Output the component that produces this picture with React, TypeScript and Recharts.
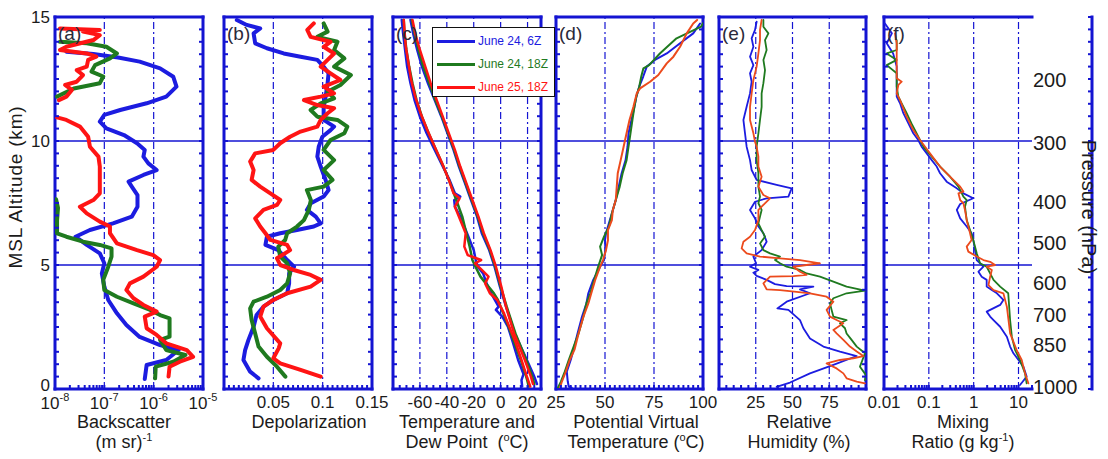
import React from 'react'
import { ScatterChart, Scatter, XAxis, YAxis, ReferenceLine } from 'recharts'

const FONT = '"Liberation Sans", Arial, Helvetica, sans-serif'
const INK = '#1b1b1b'
const FRAME = '#1414d2'
const BLUE = '#1c1ce0'
const GREEN = '#1f7a1f'
const RED = '#ff1414'
const ORANGE = '#ec4a1c'

type Pt = [number, number] // [altitude km, value]

// ---- (a) backscatter (m sr)^-1
const backscatterBlue: Pt[] = [[0.4, 6.6e-7], [0.97, 7.2e-7], [1.17, 1.8e-6], [1.57, 3.2e-6], [1.77, 1.35e-6], [2.1, 5.2e-7], [2.58, 2.8e-7], [3.05, 1.8e-7], [3.59, 1.2e-7], [4.13, 1e-7], [4.66, 8.9e-8], [5.07, 1e-7], [5.47, 8.1e-8], [5.81, 4.4e-8], [6.14, 2.6e-8], [6.41, 5.1e-8], [6.68, 1.5e-7], [6.95, 3.6e-7], [7.35, 4.7e-7], [7.82, 4.7e-7], [8.16, 3.6e-7], [8.36, 3.1e-7], [8.63, 6.2e-7], [8.83, 1.15e-6], [9.1, 7.8e-7], [9.37, 6.2e-7], [9.64, 6.6e-7], [9.91, 4.6e-7], [10.24, 2.5e-7], [10.51, 1.1e-7], [10.78, 8.1e-8], [11.05, 1e-7], [11.25, 2.1e-7], [11.52, 7.2e-7], [11.79, 1.8e-6], [12.19, 2.9e-6], [12.59, 2.5e-6], [12.93, 1.35e-6], [13.2, 5.2e-7], [13.37, 1.9e-7], [13.51, 6e-8], [13.6, 1.7e-8]]
const backscatterGreenLow: Pt[] = [[0.43, 1.07e-6], [0.9, 1.1e-6], [1.1, 2.5e-6], [1.37, 4.4e-6], [1.57, 1.8e-6], [1.98, 1.35e-6], [2.11, 2.1e-6], [2.85, 2.1e-6], [2.98, 1.35e-6], [3.19, 8.5e-7], [3.45, 3.9e-7], [3.72, 1.8e-7], [3.99, 1e-7], [4.4, 9.5e-8], [4.93, 1.2e-7], [5.34, 1.4e-7], [5.67, 1.4e-7], [5.81, 8.1e-8], [5.94, 3.7e-8], [6.14, 1.7e-8], [6.28, 1.1e-8], [6.8, 1.1e-8], [7.3, 1.15e-8], [7.65, 1.05e-8]]
const backscatterGreenHigh: Pt[] = [[11.79, 1.1e-8], [12.12, 2.4e-8], [12.33, 8.1e-8], [12.6, 9.5e-8], [12.8, 5.5e-8], [13.06, 6.5e-8], [13.33, 1.3e-7], [13.53, 1.8e-7], [13.8, 1.1e-7], [13.94, 4.4e-8], [14.0, 1.26e-8]]
const backscatterRedLow: Pt[] = [[0.5, 2e-6], [0.9, 2.1e-6], [1.1, 3.4e-6], [1.3, 6.3e-6], [1.57, 4.7e-6], [1.84, 1.8e-6], [2.18, 1.15e-6], [2.45, 7.2e-7], [2.92, 6.6e-7], [3.12, 1.15e-6], [3.39, 6.2e-7], [3.66, 3.9e-7], [3.99, 2.8e-7], [4.26, 3.3e-7], [4.53, 6.2e-7], [4.93, 1.15e-6], [5.2, 1.35e-6], [5.4, 9.8e-7], [5.6, 4.6e-7], [5.87, 1.8e-7], [6.28, 1.3e-7], [6.55, 1.3e-7], [6.75, 8.1e-8], [7.08, 4.4e-8], [7.35, 3.2e-8], [7.62, 6e-8], [7.89, 8.1e-8], [8.43, 8.1e-8], [8.97, 8.1e-8], [9.37, 7.6e-8], [9.77, 5.1e-8], [10.17, 4.7e-8], [10.58, 3.2e-8], [10.85, 1.7e-8], [10.95, 1.1e-8]]
const backscatterRedHigh: Pt[] = [[11.65, 1.2e-8], [11.79, 1.7e-8], [12.06, 2.2e-8], [12.26, 1.6e-8], [12.39, 2.75e-8], [12.66, 3.7e-8], [12.86, 2.75e-8], [13.0, 4.4e-8], [13.27, 4.7e-8], [13.4, 6.9e-8], [13.53, 4.4e-8], [13.67, 1.26e-8], [13.8, 1.7e-8], [14.07, 6e-8], [14.27, 8.1e-8], [14.41, 3.7e-8], [14.48, 8.1e-8], [14.54, 1.26e-8]]

// ---- (b) depolarization
const depolBlue: Pt[] = [[0.43, 0.035], [0.7, 0.0265], [1.17, 0.0197], [1.57, 0.0214], [1.98, 0.0248], [2.51, 0.03], [2.98, 0.033], [3.32, 0.04], [3.59, 0.05], [3.86, 0.064], [4.26, 0.066], [4.66, 0.066], [4.93, 0.071], [5.2, 0.064], [5.6, 0.055], [5.81, 0.042], [6.14, 0.0435], [6.28, 0.057], [6.41, 0.074], [6.55, 0.091], [6.68, 0.098], [6.95, 0.093], [7.22, 0.084], [7.49, 0.088], [7.76, 0.101], [8.02, 0.106], [8.43, 0.103], [8.97, 0.098], [9.37, 0.0946], [9.77, 0.096], [10.17, 0.0997], [10.44, 0.108], [10.58, 0.1116], [10.85, 0.101], [11.38, 0.101], [11.79, 0.103], [12.33, 0.105], [12.73, 0.106], [13.0, 0.101], [13.27, 0.0946], [13.4, 0.0776], [13.53, 0.0605], [13.74, 0.0435], [13.94, 0.0316], [14.34, 0.03], [14.54, 0.0367], [14.68, 0.023], [14.88, 0.013]]
const depolGreen: Pt[] = [[0.5, 0.0622], [0.9, 0.0537], [1.3, 0.0435], [1.71, 0.035], [2.24, 0.0316], [2.78, 0.028], [3.25, 0.0265], [3.52, 0.03], [3.72, 0.0435], [3.99, 0.057], [4.26, 0.064], [4.66, 0.067], [5.07, 0.064], [5.34, 0.057], [5.74, 0.055], [6.01, 0.062], [6.28, 0.064], [6.55, 0.074], [6.81, 0.081], [7.22, 0.086], [7.62, 0.088], [8.02, 0.084], [8.16, 0.101], [8.43, 0.11], [8.83, 0.101], [9.23, 0.1116], [9.64, 0.101], [10.04, 0.108], [10.31, 0.122], [10.58, 0.125], [10.85, 0.115], [10.98, 0.0946], [11.25, 0.0878], [11.52, 0.098], [11.72, 0.1116], [11.99, 0.105], [12.26, 0.118], [12.66, 0.1286], [13.0, 0.1116], [13.33, 0.122], [13.67, 0.1116], [14.0, 0.115], [14.2, 0.0946], [14.41, 0.105], [14.74, 0.101]]
const depolRed: Pt[] = [[0.5, 0.098], [0.77, 0.0776], [1.03, 0.057], [1.24, 0.05], [1.64, 0.0554], [1.84, 0.057], [2.45, 0.0435], [2.92, 0.0367], [3.32, 0.04], [3.59, 0.05], [3.86, 0.064], [4.13, 0.0878], [4.4, 0.098], [4.6, 0.0878], [4.8, 0.0707], [5.0, 0.057], [5.27, 0.0537], [5.6, 0.067], [5.81, 0.064], [6.01, 0.047], [6.28, 0.042], [6.55, 0.0367], [6.88, 0.0316], [7.22, 0.04], [7.42, 0.0537], [7.62, 0.057], [7.89, 0.047], [8.16, 0.0367], [8.43, 0.028], [8.83, 0.03], [9.17, 0.0265], [9.5, 0.0316], [9.64, 0.05], [9.91, 0.057], [10.17, 0.067], [10.38, 0.0776], [10.58, 0.0946], [10.85, 0.098], [11.12, 0.105], [11.32, 0.1116], [11.45, 0.0946], [11.65, 0.081], [11.79, 0.098], [11.92, 0.1116], [12.19, 0.101], [12.46, 0.118], [12.73, 0.108], [13.0, 0.098], [13.27, 0.105], [13.53, 0.1116], [13.8, 0.101], [14.0, 0.108], [14.2, 0.0878], [14.48, 0.0844], [14.74, 0.091]]

// ---- (c) temperature and dew point (°C)
const tempBlue: Pt[] = [[0.2, 27], [0.5, 25], [1.17, 19.5], [2.24, 10.5], [3.32, 4], [4.13, -0.5], [4.93, -4.5], [5.6, -8.5], [6.28, -14], [6.95, -17.5], [7.62, -22], [8.3, -26.5], [8.97, -31], [9.64, -35], [10.31, -39.5], [10.98, -44], [11.65, -49], [12.33, -54], [13.0, -58.5], [13.67, -62], [14.34, -65], [14.88, -67]]
const tempGreen: Pt[] = [[0.2, 25], [0.5, 23.5], [1.17, 19], [2.24, 11], [3.32, 4.5], [4.13, 0], [4.93, -4], [5.6, -8], [6.28, -13], [6.95, -17], [7.62, -21.5], [8.3, -26], [8.97, -30.5], [9.64, -34.5], [10.31, -39], [10.98, -43.5], [11.65, -48.5], [12.33, -53], [13.0, -57.5], [13.67, -61], [14.34, -64], [14.88, -66]]
const tempRed: Pt[] = [[0.2, 24], [0.5, 22.5], [1.17, 18], [2.24, 10], [3.32, 4], [4.13, 0.5], [4.93, -3.5], [5.6, -7.5], [6.28, -12.5], [6.95, -16.5], [7.62, -21], [8.3, -25.5], [8.97, -30], [9.64, -34], [10.31, -38.5], [10.98, -43], [11.65, -47.5], [12.33, -52], [13.0, -56], [13.67, -60], [14.34, -63.5], [14.88, -65.5]]
const dewBlue: Pt[] = [[0.1, 16], [0.36, 15.5], [0.6, 17], [1.17, 13], [1.9, 9], [2.5, 5.5], [2.9, 1.5], [3.19, -3.5], [3.32, -1.5], [3.86, -7], [4.26, -10.5], [4.66, -13], [4.93, -17], [5.2, -18.5], [5.6, -20], [6.28, -25], [6.95, -30], [7.35, -34], [7.62, -34.5], [7.76, -30], [7.89, -34], [8.43, -38], [8.97, -43], [9.64, -49], [10.31, -55], [10.98, -60], [11.65, -64], [12.33, -67], [13.0, -69.5], [13.67, -71], [14.34, -72.5], [14.88, -73.5]]
const dewGreen: Pt[] = [[0.1, 21], [0.5, 19], [1.17, 15], [1.9, 10], [2.5, 6], [3.05, 2], [3.59, -2], [3.86, -5], [4.26, -11], [4.53, -15], [4.8, -17.5], [5.2, -21], [5.74, -23], [6.28, -25.5], [6.95, -28.5], [7.62, -33], [8.3, -37.5], [8.97, -42.5], [9.64, -48], [10.31, -53.5], [10.98, -58.5], [11.65, -62.5], [12.33, -65.5], [13.0, -68], [13.67, -70], [14.34, -71.5], [14.88, -72]]
const dewRed: Pt[] = [[0.1, 22], [0.5, 19.5], [1.17, 15.5], [1.9, 11], [2.5, 6.5], [3.05, 2.5], [3.59, -2.5], [3.86, -8], [4.26, -11.5], [4.53, -9], [4.8, -14], [5.07, -19], [5.2, -14.5], [5.4, -24.5], [5.74, -27], [6.28, -26], [6.68, -29], [7.35, -34], [7.69, -30.5], [7.89, -35], [8.43, -38.5], [9.1, -43.5], [9.77, -49], [10.44, -54.5], [11.12, -59.5], [11.79, -63.5], [12.46, -66.5], [13.13, -68.5], [13.8, -70.5], [14.48, -71.5], [14.88, -72]]

// ---- (d) potential virtual temperature (°C)
const thetaBlue: Pt[] = [[0.05, 33], [0.1, 31.5], [0.3, 31], [0.7, 30.5], [1.17, 32.5], [1.6, 34], [2.24, 36], [2.92, 38.3], [3.45, 40.5], [3.86, 41.5], [4.4, 44], [4.93, 47.5], [5.2, 49.5], [5.6, 50.2], [6.0, 50], [6.28, 50.5], [6.68, 52], [7.08, 53.5], [7.62, 55.5], [8.16, 57], [8.7, 58.5], [9.23, 60.5], [9.77, 61.5], [10.31, 62], [10.85, 63.5], [11.38, 65], [11.79, 66], [12.2, 67.5], [12.6, 69.5], [13.0, 71.3], [13.27, 75.5], [13.53, 81.5], [13.94, 88.3], [14.34, 95], [14.74, 98.5]]
const thetaGreen: Pt[] = [[0.05, 26], [0.3, 27.5], [0.7, 29.5], [1.17, 31.5], [1.6, 33.5], [2.24, 36.5], [2.92, 39], [3.45, 40.5], [3.86, 42.5], [4.4, 44.5], [4.93, 46.5], [5.4, 48.5], [5.74, 47.5], [6.14, 49.5], [6.55, 52], [7.08, 53.5], [7.62, 55.5], [8.16, 57.5], [8.7, 59], [9.23, 61], [9.77, 62], [10.31, 63], [10.85, 64], [11.38, 65], [11.79, 66], [12.2, 67.5], [12.6, 68.5], [12.93, 69.6], [13.06, 72.5], [13.53, 78], [14.14, 86.5], [14.61, 99], [14.75, 100]]
const thetaRed: Pt[] = [[0.05, 27], [0.3, 28], [0.7, 30], [1.17, 32], [1.6, 34.5], [2.24, 36.5], [2.92, 39], [3.45, 41.5], [3.86, 43], [4.4, 45], [4.93, 47.5], [5.2, 49], [5.6, 50.5], [6.0, 51.5], [6.41, 51.5], [6.81, 53.5], [7.22, 54], [7.62, 55.5], [8.16, 56], [8.7, 56.5], [9.23, 58], [9.77, 59.5], [10.31, 61], [10.85, 62.5], [11.38, 64.5], [11.92, 66.2], [12.12, 67.9], [12.39, 73], [12.66, 77.2], [13.13, 81.5], [13.4, 84.9], [13.8, 88.3], [14.34, 91.7], [14.74, 95], [14.88, 97]]

// ---- (e) relative humidity (%)
const rhBlue: Pt[] = [[0.09, 39.2], [0.26, 48.3], [0.63, 61.9], [0.97, 77.8], [1.33, 93.7], [1.51, 82.3], [1.71, 71], [2.04, 61.9], [2.45, 57.4], [2.78, 55.1], [3.19, 47.2], [3.25, 39.7], [3.52, 46], [3.86, 61.9], [4.02, 55.1], [4.13, 64.2], [4.15, 46], [4.23, 38.1], [4.4, 32.4], [4.56, 25.6], [4.69, 23.4], [4.8, 26.8], [4.93, 21.1], [5.07, 25.2], [5.34, 23.4], [5.6, 29], [5.94, 32.4], [6.28, 30.2], [6.55, 26.8], [6.88, 24.5], [7.22, 21.1], [7.55, 24.5], [7.69, 32.4], [7.76, 47.2], [8.09, 49.4], [8.23, 39.2], [8.43, 25.6], [8.83, 22.2], [9.23, 21.1], [9.77, 18.8], [10.31, 17.7], [10.85, 16.6], [11.38, 18.8], [11.92, 21.1], [12.39, 22.2], [12.73, 21.1], [13.06, 23.4], [13.4, 21.1], [13.8, 23.4], [14.14, 22.2], [14.48, 24.5], [14.81, 25.6]]
const rhGreen: Pt[] = [[0.36, 99.3], [0.56, 100], [0.9, 95.9], [1.44, 99.3], [1.71, 93.7], [1.98, 90.2], [2.24, 86.8], [2.45, 85.7], [2.65, 82.3], [2.78, 86.8], [2.92, 77.8], [3.19, 76.6], [3.45, 75.5], [3.66, 77.8], [3.86, 86.8], [3.97, 99.3], [4.13, 86.8], [4.33, 77.8], [4.53, 68.7], [4.66, 59.6], [4.8, 55.1], [4.93, 46], [5.07, 41.5], [5.2, 38.1], [5.34, 41.5], [5.47, 34.7], [5.6, 30.2], [5.87, 27.9], [6.14, 31.3], [6.41, 29], [6.68, 26.8], [6.95, 27.9], [7.22, 29], [7.49, 26.8], [7.76, 27.9], [8.16, 26.8], [8.7, 26.8], [9.23, 25.6], [9.77, 25.6], [10.31, 26.8], [10.85, 27.9], [11.38, 29], [11.92, 29], [12.33, 30.2], [12.86, 31.3], [13.27, 30.2], [13.67, 32.4], [14.07, 31.3], [14.34, 33.6], [14.61, 30.2], [14.88, 30.2]]
const rhRed: Pt[] = [[0.23, 99.3], [0.3, 93.7], [0.43, 86.8], [0.63, 84.6], [0.83, 80], [1.03, 73.2], [1.17, 82.3], [1.24, 91.4], [1.33, 98.2], [1.51, 93.7], [1.71, 89.1], [1.98, 84.6], [2.24, 80], [2.38, 77.8], [2.65, 84.6], [2.78, 80], [2.92, 75.5], [3.19, 73.2], [3.52, 77.8], [3.72, 73.2], [3.86, 61.9], [3.92, 52.8], [3.99, 41.5], [4.02, 32.4], [4.26, 30.2], [4.53, 34.7], [4.55, 50.6], [4.6, 59.6], [4.73, 55.1], [4.93, 50.6], [5.0, 59.6], [5.07, 68.7], [5.2, 55.1], [5.27, 41.5], [5.34, 27.9], [5.47, 18.8], [5.67, 15.4], [5.94, 16.6], [6.14, 21.1], [6.41, 24.5], [6.81, 26.8], [7.22, 26.8], [7.35, 29], [7.69, 34.7], [7.82, 30.2], [8.16, 26.8], [8.56, 29], [8.97, 26.8], [9.37, 26.8], [9.77, 25.6], [9.97, 24.5], [10.31, 23.4], [10.85, 21.1], [11.38, 21.1], [11.92, 22.2], [12.46, 23.4], [13.0, 25.6], [13.53, 26.8], [14.07, 27.9], [14.48, 27.9], [14.88, 29]]

// ---- (f) mixing ratio (g/kg)
const mixBlue: Pt[] = [[0.16, 10.8], [0.5, 15.2], [0.9, 12.9], [1.17, 10], [1.44, 7.7], [1.71, 6.5], [2.11, 5.5], [2.51, 3.9], [2.78, 2.77], [2.92, 2.33], [3.12, 1.95], [3.39, 3.9], [3.59, 4.6], [3.86, 3.3], [3.99, 2.54], [4.13, 1.95], [4.4, 1.95], [4.53, 1.51], [4.73, 1.28], [4.93, 1.65], [5.2, 1.17], [5.6, 1.07], [6.01, 0.98], [6.28, 0.9], [6.55, 0.7], [6.88, 0.5], [7.22, 0.42], [7.46, 0.5], [7.69, 0.98], [7.89, 0.59], [8.09, 0.42], [8.36, 0.25], [8.7, 0.178], [8.97, 0.15], [9.23, 0.116], [9.5, 0.0897], [9.77, 0.069], [10.04, 0.058], [10.31, 0.045], [10.71, 0.035], [11.12, 0.027], [11.52, 0.0228], [11.79, 0.0192], [12.33, 0.0192], [13.0, 0.0192], [13.53, 0.016], [13.94, 0.0115], [14.34, 0.015], [14.74, 0.0105]]
const mixGreen: Pt[] = [[0.23, 15.2], [0.63, 14], [1.17, 10.8], [1.57, 8.4], [2.11, 7.1], [2.78, 6.5], [3.86, 5.9], [4.13, 3.9], [4.4, 2.77], [4.66, 2.33], [4.93, 1.95], [5.07, 1.39], [5.47, 1.17], [6.01, 0.98], [6.41, 0.83], [6.81, 0.7], [7.35, 0.64], [7.62, 0.7], [7.76, 0.59], [8.16, 0.457], [8.56, 0.297], [8.97, 0.178], [9.37, 0.116], [9.77, 0.0755], [10.31, 0.0535], [10.71, 0.041], [11.12, 0.032], [11.52, 0.0248], [11.79, 0.0209], [12.19, 0.0192], [12.73, 0.0192], [13.06, 0.0115], [13.27, 0.0192], [13.53, 0.0115], [13.67, 0.0192], [14.07, 0.0192]]
const mixRed: Pt[] = [[0.23, 16.6], [0.63, 14], [1.17, 11.8], [1.57, 9.1], [2.24, 6.5], [3.32, 5.5], [3.86, 4.6], [3.99, 2.77], [4.19, 2.14], [4.53, 2.33], [4.8, 2.54], [4.93, 1.95], [5.0, 3.0], [5.13, 2.33], [5.2, 1.65], [5.34, 1.17], [5.54, 0.76], [5.74, 0.7], [6.01, 0.9], [6.28, 0.83], [6.81, 0.7], [7.22, 0.64], [7.49, 0.59], [7.62, 0.5], [7.89, 0.457], [7.96, 0.59], [8.16, 0.5], [8.56, 0.297], [8.97, 0.178], [9.5, 0.106], [10.04, 0.0636], [10.44, 0.045], [10.98, 0.032], [11.65, 0.0228], [11.92, 0.0192], [12.26, 0.0209], [12.39, 0.0248], [12.53, 0.0192], [13.0, 0.0192], [13.53, 0.0192], [13.94, 0.0192], [14.34, 0.0176]]

// ---- axes
const altitudeTicks = [0, 5, 10, 15]
const pressureLevels = ['200', '300', '400', '500', '600', '700', '850', '1000']
const pressureAltKm = [12.46, 9.92, 7.54, 5.89, 4.27, 2.98, 1.77, 0.08]
const backscatterTicks = [1e-8, 1e-7, 1e-6, 1e-5]
const backscatterTickExp = ['-8', '-7', '-6', '-5']
const depolTicks = [0.05, 0.1, 0.15]
const depolTickLabels = ['0.05', '0.1', '0.15']
const tempTicks = [-60, -40, -20, 0, 20]
const tempTickLabels = ['-60', '-40', '-20', '0', '20']
const thetaTicks = [25, 50, 75, 100]
const thetaTickLabels = ['25', '50', '75', '100']
const rhTicks = [25, 50, 75]
const rhTickLabels = ['25', '50', '75']
const mixTicks = [0.01, 0.1, 1, 10]
const mixTickLabels = ['0.01', '0.1', '1', '10']

const legendItems = [
  { name: 'June 24, 6Z', color: BLUE },
  { name: 'June 24, 18Z', color: GREEN },
  { name: 'June 25, 18Z', color: RED },
]

function logMinor(lo: number, hi: number) {
  const out: number[] = []
  for (let e = Math.floor(Math.log10(lo)); e <= Math.floor(Math.log10(hi)); e++) {
    for (let m = 1; m < 10; m++) {
      const v = parseFloat((m * Math.pow(10, e)).toPrecision(6))
      if (v >= lo * 0.9999 && v <= hi * 1.0001) out.push(v)
    }
  }
  return out
}
function linMinor(lo: number, hi: number, step: number) {
  const out: number[] = []
  const n = Math.round((hi - lo) / step)
  for (let i = 0; i <= n; i++) out.push(parseFloat((lo + i * step).toFixed(6)))
  return out
}
const altMinor = linMinor(0, 15, 0.5)

interface Series { pts: Pt[]; color: string }
interface PanelDef {
  tag: string
  left: number
  right: number
  domain: [number, number]
  log?: boolean
  ticks: number[]
  labels: number[]
  labelText: string[]
  sup?: boolean
  grid: number[]
  lines: Series[]
  width: number
  altLabels?: boolean
  pressure?: boolean
}

const panels: PanelDef[] = [
  {
    tag: '(a)', left: 55, right: 203, domain: [1e-8, 1e-5], log: true, ticks: logMinor(1e-8, 1e-5),
    labels: backscatterTicks, labelText: backscatterTickExp, sup: true, grid: [1e-7, 1e-6], width: 4, altLabels: true,
    lines: [
      { pts: backscatterBlue, color: BLUE },
      { pts: backscatterGreenLow, color: GREEN }, { pts: backscatterGreenHigh, color: GREEN },
      { pts: backscatterRedLow, color: RED }, { pts: backscatterRedHigh, color: RED },
    ],
  },
  {
    tag: '(b)', left: 224, right: 372, domain: [0, 0.15], ticks: linMinor(0, 0.15, 0.005),
    labels: depolTicks, labelText: depolTickLabels, grid: [0.05, 0.1], width: 4,
    lines: [{ pts: depolBlue, color: BLUE }, { pts: depolGreen, color: GREEN }, { pts: depolRed, color: RED }],
  },
  {
    tag: '(c)', left: 393, right: 541, domain: [-80, 30], ticks: linMinor(-80, 30, 5),
    labels: tempTicks, labelText: tempTickLabels, grid: [-60, -40, -20, 0, 20], width: 2.5,
    lines: [
      { pts: tempBlue, color: BLUE }, { pts: dewBlue, color: BLUE },
      { pts: tempGreen, color: GREEN }, { pts: dewGreen, color: GREEN },
      { pts: tempRed, color: RED }, { pts: dewRed, color: RED },
    ],
  },
  {
    tag: '(d)', left: 556, right: 703, domain: [25, 100], ticks: linMinor(25, 100, 2.5),
    labels: thetaTicks, labelText: thetaTickLabels, grid: [50, 75], width: 2,
    lines: [{ pts: thetaBlue, color: BLUE }, { pts: thetaGreen, color: GREEN }, { pts: thetaRed, color: ORANGE }],
  },
  {
    tag: '(e)', left: 719, right: 866, domain: [0, 100], ticks: linMinor(0, 100, 5),
    labels: rhTicks, labelText: rhTickLabels, grid: [25, 50, 75], width: 1.8,
    lines: [{ pts: rhBlue, color: BLUE }, { pts: rhGreen, color: GREEN }, { pts: rhRed, color: ORANGE }],
  },
  {
    tag: '(f)', left: 884, right: 1032, domain: [0.01, 20], log: true, ticks: logMinor(0.01, 20),
    labels: mixTicks, labelText: mixTickLabels, grid: [0.1, 1, 10], width: 1.8, pressure: true,
    lines: [{ pts: mixBlue, color: BLUE }, { pts: mixGreen, color: GREEN }, { pts: mixRed, color: ORANGE }],
  },
]

const frameLine = { stroke: FRAME, strokeWidth: 3, strokeLinecap: 'square' as const }

function xTick(p: PanelDef, side: 'b' | 't') {
  return (t: any) => {
    const v = t.payload.value
    const i = p.labels.findIndex(l => Math.abs(l - v) <= Math.max(Math.abs(l) * 1e-6, 1e-12))
    const dir = side === 'b' ? -1 : 1
    return (
      <g>
        <line x1={t.x} x2={t.x} y1={t.y} y2={t.y + dir * 4} stroke={FRAME} strokeWidth={2} />
        {side === 'b' && i >= 0 && (
          p.sup ? (
            <>
              <text x={t.x - 5} y={t.y + 20} textAnchor="middle" fontSize={17} fontFamily={FONT} fill={INK}>10</text>
              <text x={t.x + 4.5} y={t.y + 12} textAnchor="start" fontSize={11} fontFamily={FONT} fill={INK}>{p.labelText[i]}</text>
            </>
          ) : (
            <text x={t.x} y={t.y + 19} textAnchor="middle" fontSize={17} fontFamily={FONT} fill={INK}>
              {p.labelText[i]}
            </text>
          )
        )}
      </g>
    )
  }
}

function yTick(p: PanelDef, side: 'l' | 'r') {
  return (t: any) => {
    const v = t.payload.value
    const dir = side === 'l' ? 1 : -1
    const lab = side === 'l' && p.altLabels && altitudeTicks.includes(v)
    return (
      <g>
        <line x1={t.x} x2={t.x + dir * 4} y1={t.y} y2={t.y} stroke={FRAME} strokeWidth={2} />
        {lab && (
          <text x={t.x - 5} y={t.y + (v === 0 ? 2 : 6)} textAnchor="end" fontSize={17} fontFamily={FONT} fill={INK}>{v}</text>
        )}
      </g>
    )
  }
}

function pressureTick(t: any) {
  return (
    <text x={t.x + 1} y={t.y + 7} textAnchor="start" fontSize={20} fontFamily={FONT} fill={INK}>
      {pressureLevels[t.index]}
    </text>
  )
}

function Panel(p: PanelDef) {
  const mr = 1108 - p.right - 1 - (p.pressure ? 60 : 0)
  const scale = p.log ? 'log' : 'linear'
  return (
    <div style={{ position: 'absolute', left: 0, top: 0 }}>
      <ScatterChart width={1108} height={459} margin={{ top: 16, bottom: 69, left: p.left - 1, right: mr }}>
        <XAxis xAxisId="b" dataKey="x" type="number" scale={scale} domain={p.domain} allowDataOverflow
          ticks={p.ticks} interval={0} height={1} tickSize={0} tickMargin={0} tickLine={false}
          axisLine={frameLine} tick={xTick(p, 'b')} />
        <XAxis xAxisId="t" orientation="top" type="number" scale={scale} domain={p.domain} allowDataOverflow
          ticks={p.ticks} interval={0} height={1} tickSize={0} tickMargin={0} tickLine={false}
          axisLine={frameLine} tick={xTick(p, 't')} />
        <YAxis yAxisId="l" dataKey="y" type="number" domain={[0, 15]} allowDataOverflow ticks={altMinor}
          interval={0} width={1} tickSize={0} tickMargin={0} tickLine={false} axisLine={frameLine} tick={yTick(p, 'l')} />
        <YAxis yAxisId="r" orientation="right" type="number" domain={[0, 15]} allowDataOverflow ticks={altMinor}
          interval={0} width={1} tickSize={0} tickMargin={0} tickLine={false} axisLine={frameLine} tick={yTick(p, 'r')} />
        {p.pressure && (
          <YAxis yAxisId="p" orientation="right" type="number" domain={[0, 15]} allowDataOverflow ticks={pressureAltKm}
            interval={0} width={60} tickSize={0} tickMargin={0} tickLine={false} axisLine={false} tick={pressureTick} />
        )}
        {p.grid.map(g => (
          <ReferenceLine key={'g' + g} xAxisId="b" yAxisId="l" x={g} stroke={FRAME} strokeWidth={1.2} strokeDasharray="7 3 2 3" />
        ))}
        <ReferenceLine xAxisId="b" yAxisId="l" y={5} stroke={FRAME} strokeWidth={1.5} />
        <ReferenceLine xAxisId="b" yAxisId="l" y={10} stroke={FRAME} strokeWidth={1.5} />
        {p.lines.map((l, i) => (
          <Scatter key={i} xAxisId="b" yAxisId="l" data={l.pts.map(([a, v]) => ({ x: v, y: a }))}
            line={{ stroke: l.color, strokeWidth: p.width, strokeLinejoin: 'round', strokeLinecap: 'round' }}
            shape={() => <g />} legendType="none" isAnimationActive={false} />
        ))}
      </ScatterChart>
      <div style={{ position: 'absolute', left: p.left + 3, top: 24, fontSize: 19, lineHeight: '19px', color: '#2a2a3a', fontFamily: FONT }}>
        {p.tag}
      </div>
    </div>
  )
}

const sup = (s: string) => <sup style={{ fontSize: 11, verticalAlign: 7, lineHeight: 0 }}>{s}</sup>

const titles: { cx: number; lines: React.ReactNode[] }[] = [
  { cx: 124, lines: ['Backscatter', <>(m sr){sup('-1')}</>] },
  { cx: 309, lines: ['Depolarization'] },
  { cx: 467, lines: ['Temperature and', <>Dew Point&nbsp; ({sup('o')}C)</>] },
  { cx: 636, lines: ['Potential Virtual', <>Temperature ({sup('o')}C)</>] },
  { cx: 799, lines: ['Relative', 'Humidity (%)'] },
  { cx: 963, lines: ['Mixing', <>Ratio (g kg{sup('-1')})</>] },
]

export default function App() {
  return (
    <div style={{ position: 'absolute', left: 0, top: 0, width: 1108, height: 459, background: '#fff', fontFamily: FONT, color: INK, overflow: 'hidden' }}>
      {panels.map(p => <Panel key={p.tag} {...p} />)}

      {titles.map((t, i) => (
        <div key={i} style={{ position: 'absolute', left: t.cx - 100, width: 200, top: 412, textAlign: 'center', fontSize: 18, lineHeight: '20px', whiteSpace: 'nowrap' }}>
          {t.lines.map((l, j) => <div key={j}>{l}</div>)}
        </div>
      ))}

      <div style={{ position: 'absolute', left: 16, top: 187, transform: 'translate(-50%, -50%) rotate(-90deg)', fontSize: 19, letterSpacing: 0.8, whiteSpace: 'nowrap', lineHeight: '20px' }}>
        MSL Altitude (km)
      </div>
      <div style={{ position: 'absolute', left: 1089, top: 207, transform: 'translate(-50%, -50%) rotate(90deg)', fontSize: 20, whiteSpace: 'nowrap', lineHeight: '22px' }}>
        Pressure (hPa)
      </div>

      <div style={{ position: 'absolute', left: 432, top: 27, width: 123, height: 70, border: '1.5px solid #111', background: '#fff', boxSizing: 'border-box' }}>
        {legendItems.map((it, i) => (
          <div key={it.name} style={{ position: 'absolute', left: 4, top: 13 + i * 23 - 8, height: 16, display: 'flex', alignItems: 'center' }}>
            <div style={{ width: 38, height: 3, background: it.color }} />
            <span style={{ marginLeft: 3, fontSize: 12, color: it.color, whiteSpace: 'nowrap' }}>{it.name}</span>
          </div>
        ))}
      </div>
    </div>
  )
}
